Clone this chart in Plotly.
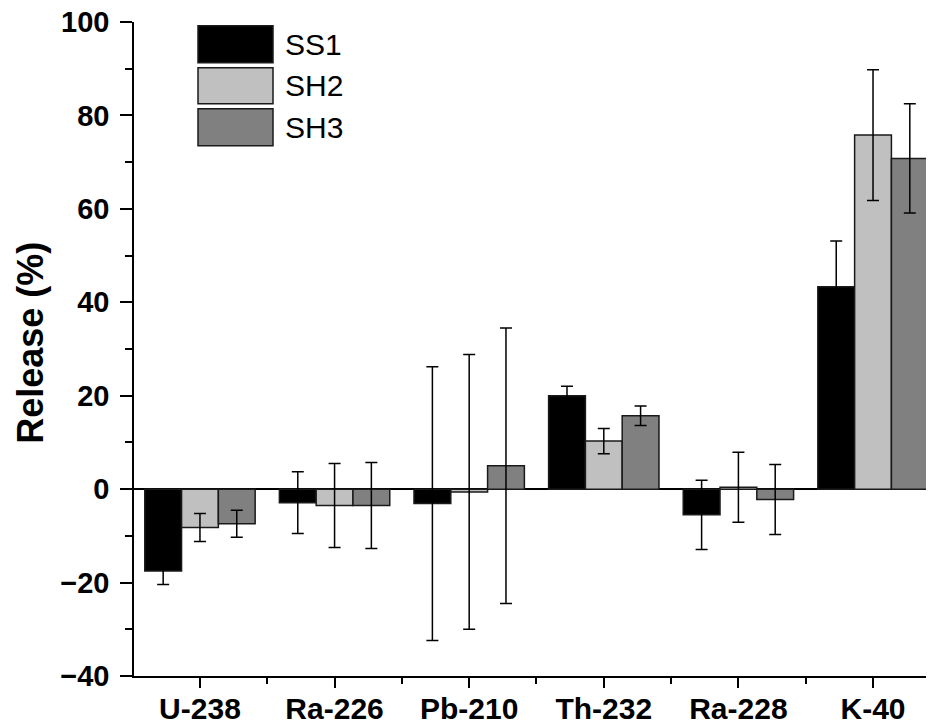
import plotly.graph_objects as go

categories = ["U-238", "Ra-226", "Pb-210", "Th-232", "Ra-228", "K-40"]
series_names = ["SS1", "SH2", "SH3"]
ss1 = [-17.5, -2.9, -3.1, 20.0, -5.5, 43.3]
ss1_err = [2.9, 6.6, 29.3, 2.0, 7.4, 9.8]
sh2 = [-8.2, -3.5, -0.6, 10.3, 0.4, 75.8]
sh2_err = [3.0, 9.0, 29.4, 2.7, 7.5, 14.0]
sh3 = [-7.4, -3.5, 5.0, 15.7, -2.2, 70.8]
sh3_err = [2.9, 9.2, 29.5, 2.1, 7.5, 11.7]
y_ticks = [-40, -20, 0, 20, 40, 60, 80, 100]

colors = ["#000000", "#c0c0c0", "#808080"]
values = [ss1, sh2, sh3]
errors = [ss1_err, sh2_err, sh3_err]
xpos = list(range(len(categories)))

fig = go.Figure()
for name, vals, errs, col in zip(series_names, values, errors, colors):
    fig.add_trace(go.Bar(
        x=xpos, y=vals, name=name,
        marker=dict(color=col, line=dict(color="#1a1a1a", width=1.5)),
        error_y=dict(type="data", array=errs, visible=True, color="#000000",
                     thickness=1.5, width=6),
        showlegend=False,
    ))

FONT = "Liberation Sans, Arial, sans-serif"

# page offset of the figure (body margin) is 8 px
OFF = 8
L = 134.0
W = 800.0
B = 676.0
H = 653.7
def px(x):
    return (x - L) / W
def py(y):
    return (B - y) / H

boxes = [(26, 63), (68, 104), (109, 146)]
for (t, b), col, name in zip(boxes, colors, series_names):
    fig.add_shape(type="rect", xref="paper", yref="paper",
                  x0=px(198), x1=px(273), y0=py(b), y1=py(t),
                  fillcolor=col, line=dict(color="#1a1a1a", width=1.5))
    fig.add_annotation(xref="paper", yref="paper", x=px(283), y=py((t + b) / 2),
                       text=name, showarrow=False, xanchor="left", yanchor="middle",
                       font=dict(family=FONT, size=30, color="#000000"))

fig.add_annotation(xref="paper", yref="paper", x=px(31), y=py(343),
                   text="Release (%)", showarrow=False, textangle=-90,
                   xanchor="center", yanchor="middle",
                   font=dict(family=FONT, size=36, color="#000000", weight="bold"))

fig.update_layout(
    width=934 - OFF, height=725 - OFF, autosize=False,
    margin=dict(l=134 - OFF, r=0, t=22 - OFF, b=49, autoexpand=False),
    paper_bgcolor="white", plot_bgcolor="white",
    barmode="group", bargap=0.18, bargroupgap=0,
)
fig.update_xaxes(
    range=[-0.49, 5.453], tickmode="array", tickvals=xpos, ticktext=categories,
    showgrid=False, zeroline=False, showline=True, linecolor="#000000", linewidth=1.5,
    ticks="outside", ticklen=10, tickwidth=1.5, tickcolor="#000000",
    ticklabelstandoff=-5, ticklabeloverflow="allow",
    tickfont=dict(family=FONT, size=30, color="#000000", weight="bold"),
    minor=dict(tickmode="array", tickvals=[i + 0.5 for i in xpos[:-1]],
               ticks="outside", ticklen=6, tickwidth=1.5, tickcolor="#000000"),
)
fig.update_yaxes(
    range=[-40, 100], tickmode="array", tickvals=y_ticks,
    showgrid=False, zeroline=True, zerolinecolor="#000000", zerolinewidth=1.5,
    showline=True, linecolor="#000000", linewidth=1.5,
    ticks="outside", ticklen=12, tickwidth=1.5, tickcolor="#000000",
    ticklabelstandoff=5, ticklabeloverflow="allow",
    tickfont=dict(family=FONT, size=29, color="#000000", weight="bold"),
    minor=dict(dtick=10, tick0=0, ticks="outside", ticklen=7, tickwidth=1.5,
               tickcolor="#000000"),
)

fig.write_html("out.html")
